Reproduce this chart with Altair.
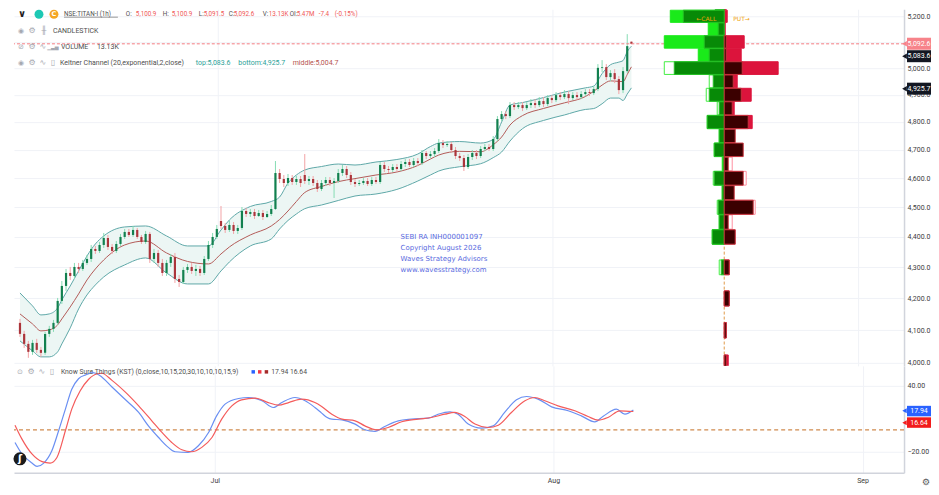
import altair as alt
import pandas as pd

W = 891
H_PRICE = 357
H_KST = 107

# ---------------- NSE:TITAN-I (1h) candles ----------------
c_open = [4122.9, 4088.7, 4057.9, 4033.5, 4060.9, 4039.5, 4030.4, 4088.7, 4104.2, 4122.9,
          4192.0, 4239.8, 4281.7, 4272.0, 4301.2, 4294.7, 4314.3, 4327.3, 4360.2, 4353.6,
          4373.4, 4396.6, 4366.8, 4353.6, 4376.7, 4400.0, 4416.7, 4406.6, 4423.4, 4400.0,
          4383.3, 4410.0, 4327.3, 4347.0, 4314.3, 4281.7, 4314.3, 4333.8, 4262.3, 4252.7,
          4291.5, 4301.2, 4288.2, 4294.7, 4281.7, 4327.3, 4373.4, 4400.0, 4453.5, 4436.7,
          4423.4, 4440.1, 4420.0, 4430.0, 4487.3, 4477.2, 4483.9, 4470.4, 4480.5, 4467.0,
          4477.2, 4494.1, 4618.2, 4597.3, 4583.4, 4600.7, 4586.8, 4597.3, 4611.2, 4590.3,
          4597.3, 4583.4, 4562.6, 4583.4, 4593.8, 4583.4, 4590.3, 4618.2, 4632.2, 4611.2,
          4586.8, 4580.0, 4583.4, 4590.3, 4580.0, 4593.8, 4586.8, 4646.2, 4632.2, 4628.7,
          4639.2, 4632.2, 4649.7, 4656.8, 4646.2, 4660.3, 4653.3, 4688.6, 4677.9, 4684.9,
          4695.7, 4724.1, 4717.0, 4720.6, 4699.2, 4677.9, 4670.8, 4639.2, 4674.4, 4688.6,
          4677.9, 4702.8, 4709.9, 4702.8, 4738.5, 4810.7, 4828.9, 4821.6, 4861.9, 4854.5,
          4861.9, 4850.8, 4861.9, 4869.2, 4861.9, 4876.6, 4865.6, 4887.7, 4880.3, 4898.8,
          4891.4, 4902.5, 4887.7, 4898.8, 4891.4, 4902.5, 4909.9, 4906.2, 4921.1, 5000.9,
          5003.6, 4966.0, 4981.0, 4958.4, 4917.3, 4988.5, 5100.9]
c_high = [4135.3, 4098.0, 4067.1, 4070.2, 4073.3, 4048.6, 4094.9, 4113.5, 4132.2, 4201.5,
          4255.9, 4294.7, 4301.2, 4314.3, 4314.3, 4324.1, 4340.4, 4373.4, 4370.1, 4383.3,
          4413.3, 4406.6, 4376.7, 4386.6, 4410.0, 4426.7, 4426.7, 4436.7, 4430.0, 4406.6,
          4420.0, 4416.7, 4360.2, 4356.9, 4327.3, 4324.1, 4343.7, 4347.0, 4275.2, 4301.2,
          4311.0, 4314.3, 4307.8, 4304.5, 4337.1, 4386.6, 4413.3, 4440.1, 4504.3, 4446.8,
          4453.5, 4450.1, 4440.1, 4500.9, 4497.5, 4494.1, 4494.1, 4490.7, 4490.7, 4487.3,
          4507.7, 4660.3, 4632.2, 4611.2, 4614.7, 4611.2, 4607.7, 4607.7, 4685.0, 4607.7,
          4607.7, 4593.8, 4593.8, 4604.2, 4604.2, 4600.7, 4632.2, 4646.2, 4642.7, 4621.7,
          4597.3, 4593.8, 4600.7, 4600.7, 4604.2, 4604.2, 4656.8, 4656.8, 4642.7, 4649.7,
          4649.7, 4660.3, 4667.3, 4667.3, 4670.8, 4670.8, 4699.2, 4695.7, 4695.7, 4706.3,
          4738.5, 4734.9, 4731.3, 4727.7, 4709.9, 4688.6, 4681.5, 4685.0, 4699.2, 4699.2,
          4713.4, 4720.6, 4720.6, 4749.2, 4821.6, 4839.9, 4839.9, 4872.9, 4872.9, 4872.9,
          4872.9, 4872.9, 4884.0, 4884.0, 4891.4, 4891.4, 4898.8, 4898.8, 4909.9, 4909.9,
          4917.3, 4913.6, 4909.9, 4909.9, 4913.6, 4921.1, 4921.1, 4932.3, 5015.0, 5030.2,
          5015.0, 4992.3, 4996.1, 4969.7, 5003.6, 5130.1, 5100.9]
c_low = [4079.4, 4045.6, 4015.2, 4024.3, 4030.4, 4018.2, 4024.3, 4079.4, 4094.9, 4116.6,
         4182.5, 4223.8, 4259.1, 4262.3, 4281.7, 4288.2, 4307.8, 4317.5, 4343.7, 4347.0,
         4363.5, 4356.9, 4343.7, 4347.0, 4370.1, 4393.3, 4400.0, 4400.0, 4393.3, 4376.7,
         4376.7, 4314.3, 4314.3, 4301.2, 4272.0, 4272.0, 4301.2, 4249.5, 4236.6, 4246.2,
         4281.7, 4278.5, 4272.0, 4272.0, 4275.2, 4320.8, 4363.5, 4393.3, 4426.7, 4413.3,
         4416.7, 4410.0, 4410.0, 4423.4, 4467.0, 4467.0, 4460.3, 4467.0, 4456.9, 4463.6,
         4470.4, 4490.7, 4583.4, 4569.5, 4573.0, 4576.5, 4576.5, 4569.5, 4580.0, 4576.5,
         4573.0, 4552.3, 4555.7, 4573.0, 4573.0, 4531.7, 4583.4, 4607.7, 4600.7, 4576.5,
         4569.5, 4573.0, 4576.5, 4573.0, 4573.0, 4580.0, 4580.0, 4621.7, 4618.2, 4621.7,
         4621.7, 4625.2, 4639.2, 4639.2, 4639.2, 4642.7, 4646.2, 4667.3, 4670.8, 4674.4,
         4688.6, 4706.3, 4709.9, 4692.1, 4667.3, 4660.3, 4625.2, 4632.2, 4663.8, 4667.3,
         4670.8, 4695.7, 4695.7, 4695.7, 4731.3, 4803.4, 4810.7, 4814.3, 4843.6, 4847.2,
         4839.9, 4843.6, 4850.8, 4850.8, 4854.5, 4854.5, 4858.2, 4869.2, 4872.9, 4880.3,
         4884.0, 4865.6, 4880.3, 4880.3, 4884.0, 4895.1, 4895.1, 4898.8, 4913.6, 4984.7,
         4954.7, 4950.9, 4943.5, 4902.5, 4906.2, 4981.0, 5091.5]
c_close = [4088.7, 4057.9, 4033.5, 4060.9, 4039.5, 4030.4, 4088.7, 4104.2, 4122.9, 4192.0,
           4239.8, 4281.7, 4272.0, 4301.2, 4294.7, 4314.3, 4327.3, 4360.2, 4353.6, 4373.4,
           4396.6, 4366.8, 4353.6, 4376.7, 4400.0, 4416.7, 4406.6, 4423.4, 4400.0, 4383.3,
           4410.0, 4327.3, 4347.0, 4314.3, 4281.7, 4314.3, 4333.8, 4262.3, 4252.7, 4291.5,
           4301.2, 4288.2, 4294.7, 4281.7, 4327.3, 4373.4, 4400.0, 4426.7, 4436.7, 4423.4,
           4440.1, 4420.0, 4430.0, 4487.3, 4477.2, 4483.9, 4470.4, 4480.5, 4467.0, 4477.2,
           4494.1, 4618.2, 4597.3, 4583.4, 4600.7, 4586.8, 4597.3, 4583.4, 4590.3, 4597.3,
           4583.4, 4562.6, 4583.4, 4593.8, 4583.4, 4590.3, 4618.2, 4632.2, 4611.2, 4586.8,
           4580.0, 4583.4, 4590.3, 4580.0, 4593.8, 4586.8, 4646.2, 4632.2, 4628.7, 4639.2,
           4632.2, 4649.7, 4656.8, 4646.2, 4660.3, 4653.3, 4688.6, 4677.9, 4684.9, 4695.7,
           4724.1, 4717.0, 4720.6, 4699.2, 4677.9, 4670.8, 4639.2, 4674.4, 4688.6, 4677.9,
           4702.8, 4709.9, 4702.8, 4738.5, 4810.7, 4828.9, 4821.6, 4861.9, 4854.5, 4861.9,
           4850.8, 4861.9, 4869.2, 4861.9, 4876.6, 4865.6, 4887.7, 4880.3, 4898.8, 4891.4,
           4902.5, 4887.7, 4898.8, 4891.4, 4902.5, 4909.9, 4906.2, 4921.1, 5000.9, 5003.6,
           4966.0, 4981.0, 4958.4, 4917.3, 4988.5, 5083.7, 5092.6]

# ---------------- Keltner Channel (20, exponential, 2, close) ----------------
kc_bar = [0, 3, 5, 7, 9, 10, 12, 14, 16, 18, 20, 25, 30, 35, 40, 45, 48, 50, 55, 60,
          62, 64, 66, 68, 72, 76, 80, 85, 90, 95, 98, 100, 105, 110, 113, 115, 117, 120, 125, 130,
          135, 137, 139, 141, 143, 144, 145, 146]
kc_upper = [4217.4, 4176.2, 4147.8, 4151.0, 4169.9, 4195.2, 4239.8, 4288.2, 4337.1, 4376.7,
            4403.3, 4433.4, 4436.7, 4403.3, 4370.1, 4370.1, 4423.3, 4456.9, 4502.6, 4519.7,
            4535.1, 4583.4, 4611.2, 4628.7, 4640.9, 4649.7, 4646.2, 4656.8, 4665.6, 4685.0,
            4711.6, 4724.1, 4729.5, 4724.1, 4737.0, 4799.8, 4861.9, 4871.1, 4889.6, 4909.9,
            4925.6, 4932.3, 4979.1, 5012.7, 5022.6, 5028.3, 5062.6, 5083.6]
kc_middle = [4151.0, 4119.7, 4098.0, 4101.1, 4116.6, 4135.3, 4173.0, 4214.3, 4259.1, 4294.7,
             4324.1, 4373.4, 4386.6, 4347.0, 4319.2, 4311.0, 4343.7, 4366.8, 4406.6, 4436.7,
             4458.6, 4487.3, 4519.7, 4550.5, 4571.3, 4588.2, 4598.7, 4611.2, 4621.7, 4644.5,
             4667.3, 4681.5, 4694.6, 4693.2, 4718.1, 4745.6, 4788.9, 4823.4, 4849.4, 4870.0,
             4893.3, 4912.9, 4936.0, 4951.7, 4949.8, 4949.0, 4975.7, 5004.7]
kc_lower = [4067.1, 4036.5, 4018.2, 4018.2, 4033.5, 4057.8, 4107.3, 4166.7, 4211.1, 4243.0,
            4268.8, 4307.8, 4330.6, 4281.7, 4246.2, 4246.2, 4288.2, 4317.5, 4370.1, 4393.3,
            4426.7, 4455.2, 4477.2, 4495.1, 4507.7, 4523.1, 4538.5, 4545.4, 4561.2, 4590.3,
            4611.2, 4625.2, 4640.2, 4650.8, 4672.3, 4692.1, 4731.3, 4775.9, 4805.6, 4825.6,
            4845.8, 4849.1, 4866.7, 4887.7, 4887.7, 4878.8, 4902.5, 4925.7]

# ---------------- Know Sure Thing ----------------
kst_bar = [0, 1.65, 4.0, 5.2, 6.8, 8.7, 10.3, 11.9, 13.4, 15.0, 16.7, 18.4, 20.0, 22.9, 25.9,
           29.2, 31.5, 33.9, 36.2, 37.8, 40.9, 43.3, 45.7, 47.6, 49.6, 52.8, 55.1, 58.3, 61.0,
           63.0, 66.1, 68.5, 70.8, 72.4, 73.6, 74.8, 77.2, 80.3, 82.6, 85.0, 87.3, 90.5, 93.6,
           97.6, 99.9, 102.7, 104.6, 107.0, 110.1, 112.9, 115.6, 118.4, 120.8, 123.5, 126.7,
           130.6, 133.7, 136.9, 138.8, 142.0, 144.0, 146]
kst_val = [-11.5, -22, -30.3, -33.3, -30.3, -19.1, -0.9, 18.8, 36.9, 46.5, 50, 52, 49.5, 39, 28,
           15.8, 3.6, -7, -16, -20, -20.5, -14.5, -2.4, 12.7, 23.4, 28.5, 29.4, 26.4, 20.3,
           24.8, 29.4, 26.4, 20.3, 15.2, 11.5, 9.7, 9.1, 5.2, 0, -1.5, 3, 8.2, 9.7,
           10.6, 14.2, 16.4, 14.2, 5.2, 1.5, 3.6, 15.8, 27.3, 30.3, 27.9, 20.9,
           17.3, 12.7, 7.3, 12.1, 18.8, 14.2, 17.94]
sig_bar = [0, 1.65, 4.0, 6.4, 8.3, 9.9, 11.9, 13.4, 15.4, 17.4, 19.4, 20.5, 22.9, 26.0, 29.2,
           32.3, 34.7, 37.0, 39.4, 41.7, 44.1, 46.5, 48.8, 51.2, 53.5, 56.7, 59.8, 62.2, 64.6,
           67.7, 70.8, 72.4, 74.8, 77.2, 80.3, 82.6, 85.4, 88.1, 91.3, 95.2, 98.3, 101.5, 103.8,
           106.2, 108.6, 111.7, 114.1, 117.2, 120.4, 122.7, 125.1, 128.2, 132.2, 135.3, 137.7,
           140.0, 142.8, 146]
sig_val = [4.2, -8.5, -22, -29, -30.3, -25.2, -0.9, 18.8, 35.5, 46, 51, 51.5, 45, 34.5, 21.8,
           8.2, -2.4, -11.5, -18.2, -20, -16, -7, 9.7, 21.8, 27.3, 28.8, 24.8, 22.4, 24.8,
           27.9, 24.8, 21.2, 14.2, 9.7, 8.2, 3.6, 0, 2.1, 7.3, 9.7, 11.2, 14.2, 15.8,
           12.1, 5.2, 2.1, 4.2, 15.8, 26.4, 29.4, 26.4, 21.8, 17.3, 12.1, 8.8,
           11.2, 17.3, 16.64]

# ---------------- option chain open-interest profile ----------------
oc_strike = [5250, 5200, 5150, 5100, 5050, 5000, 4950, 4900, 4850, 4800, 4750, 4700, 4650,
             4600, 4550, 4500, 4450, 4400, 4300, 4200, 4100, 4000]
call_oi = [0, 54, 16, 60, 26, 60, 15, 18, 7, 17, 5, 10, 2, 11, 2, 7, 5, 12, 5, 0, 0, 0]
call_oi_outline = [0, 0, 0, 0, 0, 1, 1, 1, 1, 0, 0, 0, 0, 1, 0, 1, 0, 0, 1, 0, 0, 0]
call_chg = [9, 41, 6, 20, 15, 50, 11, 15, 5, 17, 5, 10, 1, 10, 2, 6, 5, 12, 3, 0, 0, 0]
put_chg = [0, 0, 0, 2, 2, 18, 9, 17, 8, 24, 11, 19, 4, 19, 10, 29, 4, 11, 5, 5, 2, 2]
put_oi = [2, 3, 1, 20, 17, 54, 13, 27, 10, 28, 0, 0, 8, 22, 0, 31, 8, 11, 5, 5, 2, 4]
put_oi_outline = [0, 0, 0, 0, 0, 0, 0, 0, 0, 0, 0, 0, 1, 1, 0, 1, 1, 1, 0, 0, 0, 0]

# ---------------- axes / labels ----------------
price_ticks = [4000, 4100, 4200, 4300, 4400, 4500, 4600, 4700, 4800, 4900, 5000, 5100, 5200]
kst_ticks = [-20, 0, 20, 40]
month_bar = [47.17, 127.12, 200.12]
month_label = ["Jul", "Aug", "Sep"]

last_open, last_high, last_low, last_close = 5100.9, 5100.9, 5091.5, 5092.6
kc_top_last, kc_bottom_last, kc_mid_last = 5083.6, 4925.7, 5004.7
kst_last, sig_last = 17.94, 16.64

# ---------------- scales ----------------
xs = alt.Scale(domain=[-0.236, 209.9], nice=False, zero=False)
ps = alt.Scale(type="log", domain=[3990.9, 5227.6], nice=False)
ks = alt.Scale(domain=[-39.1, 58.2], nice=False, zero=False)
ocs = alt.Scale(domain=[-711, 180], nice=False, zero=False)
pxs = alt.Scale(domain=[0, W], nice=False, zero=False)
pys1 = alt.Scale(domain=[0, H_PRICE], nice=False, zero=False, reverse=True)
pys2 = alt.Scale(domain=[0, H_KST], nice=False, zero=False, reverse=True)

parts = []
for i in range(len(month_bar) - 1):
    mid = (month_bar[i] + month_bar[i + 1]) / 2
    parts.append(f"datum.value < {mid:.2f} ? '{month_label[i]}' : ")
label_expr = "".join(parts) + f"'{month_label[-1]}'"

GRID = "#f0f2f7"
price_axis = alt.Axis(orient="right", values=price_ticks, format=",.1f", labelFontSize=7,
                      labelColor="#3d3d3d", labelFont="Roboto", ticks=False, labelPadding=3,
                      domain=True, domainColor="#d1d4dc", domainWidth=1.5, grid=True,
                      gridColor=GRID, title=None, minExtent=0, labelOverlap=False,
                      labelFlush=False)
x_grid_axis = alt.Axis(values=month_bar, labels=False, ticks=False, domain=False, grid=True,
                       gridColor=GRID, title=None)
kst_axis = alt.Axis(orient="right", values=kst_ticks, format=".2f", labelFontSize=7,
                    labelColor="#3d3d3d", labelFont="Roboto", ticks=False, labelPadding=3,
                    domain=True, domainColor="#d1d4dc", domainWidth=1.5, grid=True,
                    gridColor=GRID, title=None, minExtent=0, labelOverlap=False,
                    labelFlush=False)
x_axis = alt.Axis(values=month_bar, labelExpr=label_expr, ticks=False, labelPadding=4,
                  labelFontSize=7, labelColor="#3d3d3d", labelFont="Roboto", domain=True,
                  domainColor="#d1d4dc", domainWidth=1.5, grid=True, gridColor=GRID,
                  title=None, labelFlush=False)

# ---------------- price pane ----------------
candles = pd.DataFrame({"bar": list(range(len(c_close))), "open": c_open, "high": c_high,
                        "low": c_low, "close": c_close})
up = candles["close"] >= candles["open"]
candles["body"] = up.map({True: "#12804f", False: "#ab353b"})
candles["wick"] = up.map({True: "#86dcb4", False: "#f2a3a6"})

kc = pd.DataFrame({"bar": kc_bar, "upper": kc_upper, "middle": kc_middle, "lower": kc_lower})

band = alt.Chart(kc).mark_area(color="#ecf6f4", opacity=1, interpolate="monotone").encode(
    x=alt.X("bar:Q", scale=xs, axis=x_grid_axis),
    y=alt.Y("upper:Q", scale=ps, axis=price_axis),
    y2="lower:Q")
up_line = alt.Chart(kc).mark_line(color="#5ea8a8", strokeWidth=1, interpolate="monotone").encode(
    x=alt.X("bar:Q", scale=xs), y=alt.Y("upper:Q", scale=ps))
low_line = alt.Chart(kc).mark_line(color="#5ea8a8", strokeWidth=1, interpolate="monotone").encode(
    x=alt.X("bar:Q", scale=xs), y=alt.Y("lower:Q", scale=ps))
mid_line = alt.Chart(kc).mark_line(color="#b35b58", strokeWidth=1, interpolate="monotone").encode(
    x=alt.X("bar:Q", scale=xs), y=alt.Y("middle:Q", scale=ps))
wicks = alt.Chart(candles).mark_rule(strokeWidth=1).encode(
    x=alt.X("bar:Q", scale=xs), y=alt.Y("low:Q", scale=ps), y2="high:Q",
    color=alt.Color("wick:N", scale=None))
bodies = alt.Chart(candles).mark_bar(size=2.2).encode(
    x=alt.X("bar:Q", scale=xs), y=alt.Y("open:Q", scale=ps), y2="close:Q",
    color=alt.Color("body:N", scale=None))
last_rule = alt.Chart(pd.DataFrame({"price": [last_close]})).mark_rule(
    color="#f47c82", strokeDash=[3, 2], strokeWidth=1).encode(y=alt.Y("price:Q", scale=ps))

main_group = alt.layer(band, up_line, low_line, mid_line, wicks, bodies, last_rule)

# option chain bars
rows = []
for k, co, cof, po, pof in zip(oc_strike, call_oi, call_oi_outline, put_oi, put_oi_outline):
    if co > 0:
        rows.append((0, -co, k - 24, k + 24, "#ffffff" if cof else "#1aea1a",
                     "#42ee42" if cof else "#1aea1a"))
    if po > 0:
        rows.append((0, po, k - 24, k + 24, "#ffffff" if pof else "#dc143c",
                     "#ff8fa0" if pof else "#dc143c"))
for k, cc, pc in zip(oc_strike, call_chg, put_chg):
    if cc > 0:
        rows.append((0, -cc, k - 24, k + 24, "#078a07", "#25c025"))
    if pc > 0:
        rows.append((0, pc, k - 24, k + 24, "#3b0000", "#c8323c"))
oc_df = pd.DataFrame(rows, columns=["x1", "x2", "y1", "y2", "fill", "stroke"])

center_rule = alt.Chart(pd.DataFrame({"x": [0], "lo": [3995], "hi": [5227]})).mark_rule(
    color="#e09a48", strokeDash=[3, 2], strokeWidth=1).encode(
    x=alt.X("x:Q", scale=ocs, axis=None), y=alt.Y("lo:Q", scale=ps), y2="hi:Q")
oc_bars = alt.Chart(oc_df).mark_rect(clip=True, strokeWidth=1).encode(
    x=alt.X("x1:Q", scale=ocs, axis=None), x2="x2:Q",
    y=alt.Y("y1:Q", scale=ps), y2="y2:Q",
    fill=alt.Fill("fill:N", scale=None), stroke=alt.Stroke("stroke:N", scale=None))
oc_group = alt.layer(center_rule, oc_bars)

price_core = alt.layer(main_group, oc_group).resolve_scale(x="independent")


def text_layer(rows, ys, font="Roboto", align="left", weight="normal"):
    df = pd.DataFrame(rows, columns=["tx", "ty", "text", "color", "size"])
    return alt.Chart(df).mark_text(font=font, align=align, fontWeight=weight,
                                   baseline="middle").encode(
        x=alt.X("tx:Q", scale=pxs, axis=None), y=alt.Y("ty:Q", scale=ys, axis=None),
        text="text:N", color=alt.Color("color:N", scale=None),
        size=alt.Size("size:Q", scale=None))


def box_layer(rows, ys):
    df = pd.DataFrame(rows, columns=["x1", "x2", "y1", "y2", "fill"])
    return alt.Chart(df).mark_rect().encode(
        x=alt.X("x1:Q", scale=pxs, axis=None), x2="x2:Q",
        y=alt.Y("y1:Q", scale=ys, axis=None), y2="y2:Q",
        color=alt.Color("fill:N", scale=None))


def point_layer(rows, ys, shape="circle"):
    df = pd.DataFrame(rows, columns=["tx", "ty", "color", "size"])
    return alt.Chart(df).mark_point(filled=True, opacity=1, shape=shape, strokeWidth=0).encode(
        x=alt.X("tx:Q", scale=pxs, axis=None), y=alt.Y("ty:Q", scale=ys, axis=None),
        color=alt.Color("color:N", scale=None), size=alt.Size("size:Q", scale=None))


GREY = "#4f4f4f"
RED = "#ef5656"
ICON = "#a6a9b1"
TEAL = "#2aa198"
BROWN = "#b5524e"
R1 = 6.3

hdr_rows = [
    (50, 4.5, "NSE:TITAN-I (1h)", GREY, R1),
    (112, 4.5, "O:", GREY, R1), (122, 4.5, f"{last_open:,.1f}", RED, R1),
    (149, 4.5, "H:", GREY, R1), (158, 4.5, f"{last_high:,.1f}", RED, R1),
    (185, 4.5, "L:", GREY, R1), (190, 4.5, f"{last_low:,.1f}", RED, R1),
    (215, 4.5, "C:", GREY, R1), (220, 4.5, f"{last_close:,.1f}", RED, R1),
    (249, 4.5, "V:", GREY, R1), (255, 4.5, "13.13K", RED, R1),
    (276, 4.5, "OI:", GREY, R1), (283, 4.5, "5.47M", RED, R1),
    (305, 4.5, "-7.4", RED, R1), (321, 4.5, "(-0.15%)", RED, R1),
    (39, 21.5, "CANDLESTICK", GREY, 7),
    (47, 38, "VOLUME", GREY, 7), (83, 38, "13.13K", GREY, 7),
    (46, 54, "Keltner Channel (20,exponential,2,close)", GREY, 7),
    (182, 54, f"top:{kc_top_last:,.1f}", TEAL, 7),
    (224.5, 54, f"bottom:{kc_bottom_last:,.1f}", TEAL, 7),
    (279, 54, f"middle:{kc_mid_last:,.1f}", BROWN, 7),
]
icon_rows = [
    (7, 21.5, "◉", ICON, 7), (18, 21.5, "⚙", ICON, 8), (30, 21.5, "╫", ICON, 8),
    (7, 38, "⊘", ICON, 7), (18, 38, "⚙", ICON, 8), (29, 38, "∿", ICON, 8),
    (39, 38, "▁▃▅", ICON, 5),
    (7, 54, "◉", ICON, 7), (18, 54, "⚙", ICON, 8), (29, 54, "∿", ICON, 8),
    (39, 54, "▯", ICON, 8),
]
chev_rows = [(8, 5, "∨", "#1c1c1c", 10), (40, 5, "C", "#ffffff", 6.5)]
wm_rows = [
    (387, 228, "SEBI RA INH000001097", "#5a6be0", 7),
    (387, 239, "Copyright August 2026", "#5a6be0", 7),
    (387, 250, "Waves Strategy Advisors", "#5a6be0", 7),
    (387, 261, "www.wavesstrategy.com", "#5a6be0", 7),
    (683, 9.3, "←CALL", "#f0a30a", 6),
    (720, 9.3, "PUT→", "#f0a30a", 6),
]
tag_text_rows = [
    (906, 34.5, f"{last_close:,.1f}", "#ffffff", 7),
    (906, 47, f"{kc_top_last:,.1f}", "#ffffff", 7),
    (906, 79.5, f"{kc_bottom_last:,.1f}", "#ffffff", 7),
]
tag_box_rows = [
    (894, 918, 28.5, 40.5, "#f7838a"),
    (894, 918, 41, 53, "#131722"),
    (894, 918, 73.5, 85.5, "#131722"),
    (50, 104, 7.6, 8.2, "#777777"),
]
tag_tri_rows = [(891.5, 34.5, "#f7838a", 30), (891.5, 47, "#131722", 30),
                (891.5, 79.5, "#131722", 30)]
circle_rows = [(25, 5, "#1dc8b4", 80), (40, 5, "#f5a623", 80)]

price_text = alt.layer(
    box_layer(tag_box_rows, pys1),
    point_layer(tag_tri_rows, pys1, shape="triangle-left"),
    point_layer(circle_rows, pys1),
    text_layer(hdr_rows, pys1),
    text_layer(icon_rows, pys1, font="DejaVu Sans", align="center"),
    text_layer(chev_rows, pys1, font="DejaVu Sans", align="center", weight="bold"),
    text_layer(wm_rows, pys1, font="DejaVu Sans"),
    text_layer(tag_text_rows, pys1, align="center"),
)

price_pane = alt.layer(price_core, price_text).resolve_scale(
    x="independent", y="independent").properties(width=W, height=H_PRICE)

# ---------------- KST pane ----------------
kst_df = pd.DataFrame({"bar": kst_bar, "val": kst_val})
sig_df = pd.DataFrame({"bar": sig_bar, "val": sig_val})

zero_rule = alt.Chart(pd.DataFrame({"v": [0]})).mark_rule(
    color="#cf8a4e", strokeDash=[4, 3], strokeWidth=1.2).encode(
    y=alt.Y("v:Q", scale=ks, axis=kst_axis))
kst_line = alt.Chart(kst_df).mark_line(color="#6a8ff2", strokeWidth=1.2,
                                       interpolate="monotone").encode(
    x=alt.X("bar:Q", scale=xs, axis=x_axis), y=alt.Y("val:Q", scale=ks))
sig_line = alt.Chart(sig_df).mark_line(color="#f45b5b", strokeWidth=1.2,
                                       interpolate="monotone").encode(
    x=alt.X("bar:Q", scale=xs), y=alt.Y("val:Q", scale=ks))
kst_core = alt.layer(zero_rule, kst_line, sig_line)

kst_hdr = [
    (47, 6, "Know Sure Things (KST) (0,close,10,15,20,30,10,10,10,15,9)", GREY, 6.8),
    (257.5, 6, f"{kst_last:.2f} {sig_last:.2f}", GREY, 6.8),
]
kst_icons = [(6, 6, "⊙", ICON, 7), (17, 6, "⚙", ICON, 8), (28, 6, "∿", ICON, 8),
             (38, 6, "▯", ICON, 8), (913, 116, "⚙", "#5a5a5a", 9)]
kst_sq = [(239.5, 6, "#2962ff", 12), (246, 6, "#f23645", 12), (252.7, 6, "#a52a2a", 12)]
kst_boxes = [(894, 918, 40, 50.5, "#2962ff"), (894, 918, 51.5, 62, "#f21c1c")]
kst_tri = [(891.5, 45, "#2962ff", 26), (891.5, 57, "#f21c1c", 26)]
kst_tags = [(906, 45.2, f"{kst_last:.2f}", "#ffffff", 7), (906, 56.8, f"{sig_last:.2f}", "#ffffff", 7)]
logo_pt = [(6, 93, "#1b1b1b", 170)]
logo_txt = [(6, 93, "ʃ", "#ffffff", 10)]

kst_text = alt.layer(
    box_layer(kst_boxes, pys2),
    point_layer(kst_tri, pys2, shape="triangle-left"),
    point_layer(kst_sq, pys2, shape="square"),
    point_layer(logo_pt, pys2),
    text_layer(kst_hdr, pys2),
    text_layer(kst_icons, pys2, font="DejaVu Sans", align="center"),
    text_layer(logo_txt, pys2, font="DejaVu Sans", align="center", weight="bold"),
    text_layer(kst_tags, pys2, align="center"),
)

kst_pane = alt.layer(kst_core, kst_text).resolve_scale(
    x="independent", y="independent").properties(width=W, height=H_KST)

chart = alt.vconcat(price_pane, kst_pane, spacing=0).properties(
    padding={"left": 4, "top": 0, "right": 0, "bottom": 0},
    background="white",
).configure_view(stroke=None).configure_axis(labelFont="Roboto")

chart.save("out.html", embed_options={"renderer": "svg", "actions": False})
